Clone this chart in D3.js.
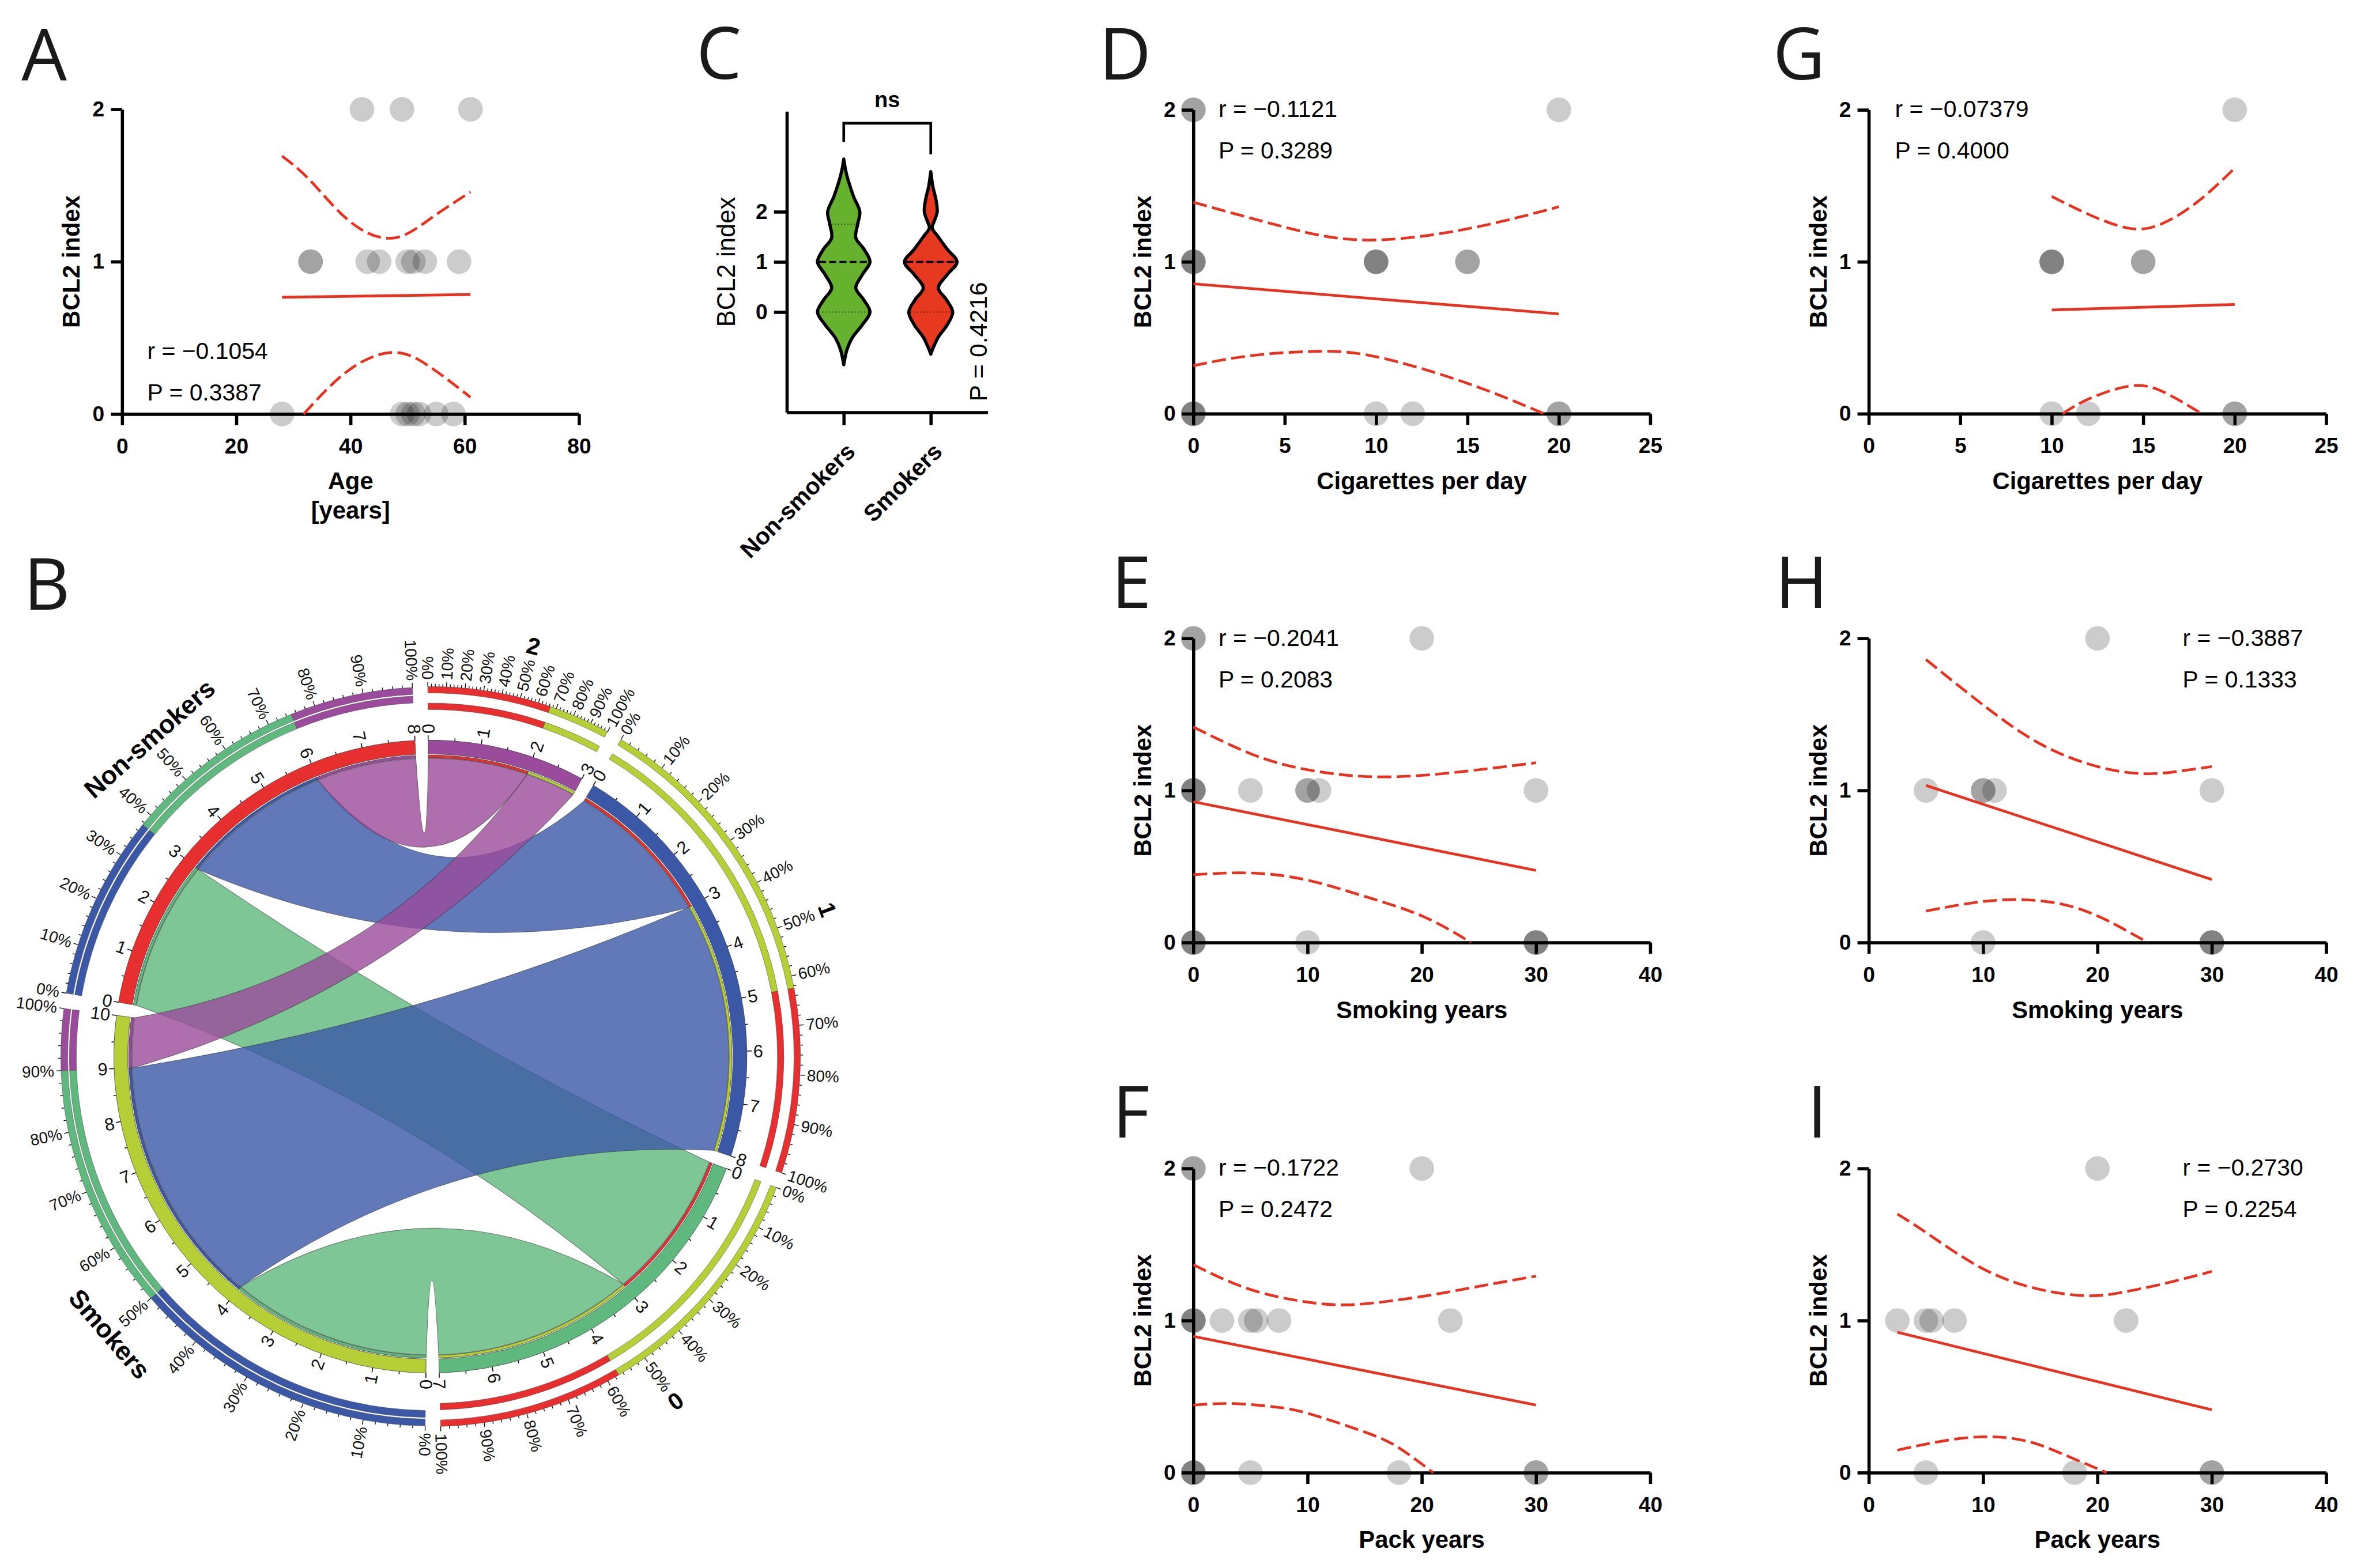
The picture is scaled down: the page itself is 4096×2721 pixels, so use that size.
<!DOCTYPE html>
<html>
<head>
<meta charset="utf-8">
<script src="https://cdn.jsdelivr.net/npm/d3@7"></script>
<style>
body { margin: 0; background: #fff; }
svg text { font-family: "Liberation Sans", Arial, sans-serif; }
</style>
</head>
<body>
<svg id="fig"></svg>
<script>
// ---------- data ----------
const bclTicks = [0, 1, 2]

// A: age (all patients)
const ageX = [42, 49, 61, 33, 33, 43, 45, 50, 51, 53, 59, 28, 49, 50, 51, 52, 55, 58]
const allY = [2, 2, 2, 1, 1, 1, 1, 1, 1, 1, 1, 0, 0, 0, 0, 0, 0, 0]
const ageFitX = [28, 61], ageFitY = [0.766, 0.784]
const ageUpX = [28, 33, 40, 47.5, 54, 61], ageUpY = [1.693, 1.53, 1.26, 1.155, 1.283, 1.457]
const ageLoX = [31.8, 39.6, 47.5, 54, 61], ageLoY = [0, 0.285, 0.404, 0.307, 0.11]

// D: cigarettes per day (all)
const cigX = [0, 0, 20, 0, 0, 0, 10, 10, 10, 15, 15, 0, 0, 0, 10, 12, 20, 20]
const cigFitX = [0, 20], cigFitY = [0.855, 0.657]
const cigUpX = [0, 5, 9.5, 15, 20], cigUpY = [1.392, 1.228, 1.143, 1.217, 1.362]
const cigLoX = [0, 3, 6.5, 10, 15, 19.2], cigLoY = [0.316, 0.38, 0.41, 0.375, 0.2, 0]

// E: smoking years (all)
const yrsX = [0, 0, 20, 0, 0, 0, 5, 10, 10, 11, 30, 0, 0, 0, 10, 30, 30, 30]
const yrsFitX = [0, 30], yrsFitY = [0.926, 0.474]
const yrsUpX = [0, 5, 10, 17, 25, 30], yrsUpY = [1.417, 1.242, 1.136, 1.089, 1.136, 1.182]
const yrsLoX = [0, 5, 10, 15, 20, 24.3], yrsLoY = [0.446, 0.457, 0.41, 0.303, 0.175, 0]

// F: pack years (all)
const packX = [0, 0, 20, 0, 0, 0, 2.5, 5, 5.5, 7.5, 22.5, 0, 0, 0, 5, 18, 30, 30]
const packFitX = [0, 30], packFitY = [0.896, 0.444]
const packUpX = [0, 5, 10, 12.5, 15, 20, 25, 30], packUpY = [1.367, 1.204, 1.121, 1.104, 1.11, 1.158, 1.225, 1.292]
const packLoX = [0, 3.5, 7, 10, 15, 18, 21], packLoY = [0.444, 0.454, 0.433, 0.39, 0.267, 0.163, 0]

// G-I: smokers only
const smkY = [2, 1, 1, 1, 1, 1, 0, 0, 0, 0]
const sCigX = [20, 10, 10, 10, 15, 15, 10, 12, 20, 20]
const sCigFitX = [10, 20], sCigFitY = [0.683, 0.719]
const sCigUpX = [10, 12, 14.2, 16, 18, 20], sCigUpY = [1.43, 1.313, 1.221, 1.249, 1.398, 1.616]
const sCigLoX = [10.6, 12, 14.2, 16, 18.2], sCigLoY = [0, 0.096, 0.181, 0.149, 0]

const sYrsX = [20, 5, 10, 10, 11, 30, 10, 30, 30, 30]
const sYrsFitX = [5, 30], sYrsFitY = [1.033, 0.414]
const sYrsUpX = [5, 10, 15, 20, 24, 27, 30], sYrsUpY = [1.861, 1.562, 1.306, 1.157, 1.11, 1.125, 1.157]
const sYrsLoX = [5, 9, 13, 17, 20, 22, 24.4], sYrsLoY = [0.207, 0.26, 0.282, 0.25, 0.175, 0.1, 0]

const sPackX = [20, 2.5, 5, 5.5, 7.5, 22.5, 5, 18, 30, 30]
const sPackFitX = [2.5, 30], sPackFitY = [0.923, 0.4125]
const sPackUpX = [2.5, 5, 10, 15, 19, 22, 26, 30], sPackUpY = [1.7, 1.579, 1.34, 1.204, 1.163, 1.183, 1.246, 1.323]
const sPackLoX = [2.5, 5, 8, 11, 14, 17, 20.8], sPackLoY = [0.148, 0.1875, 0.225, 0.235, 0.204, 0.121, 0]

// C: violins (value, relative density)
const groupsC = ['Non-smokers', 'Smokers']
const nsVals = [3.05, 2.83, 2.62, 2.3, 2.0, 1.75, 1.48, 1.25, 1.0, 0.75, 0.48, 0.25, 0.0, -0.25, -0.51, -0.75, -1.05]
const nsDens = [0, 0.07, 0.17, 0.37, 0.6, 0.52, 0.45, 0.76, 0.98, 0.7, 0.45, 0.74, 0.98, 0.7, 0.32, 0.12, 0]
const smVals = [2.8, 2.5, 2.25, 2.0, 1.8, 1.68, 1.5, 1.25, 1.0, 0.75, 0.48, 0.25, 0.0, -0.25, -0.5, -0.7, -0.84]
const smDens = [0, 0.08, 0.19, 0.24, 0.12, 0.05, 0.28, 0.62, 0.98, 0.62, 0.28, 0.58, 0.82, 0.62, 0.28, 0.1, 0]
const nsQuart = [0, 1.75], smQuart = [0, 1]
const medianC = [1, 1]

// B: chord diagram
const sectNames = ['2', '1', '0', 'Smokers', 'Non-smokers']
const sectSizes = [3, 8, 7, 10, 8]
const sectColors = ['#9b4b9b', '#3b58a7', '#5fb87d', '#b6cf37', '#e62f2e']
const linkFrom = ['Non-smokers', 'Non-smokers', 'Non-smokers', 'Smokers', 'Smokers', 'Smokers']
const linkFromRange = [[0, 3], [3, 6], [6, 8], [0, 4], [4, 9], [9, 10]]
const linkTo = ['0', '1', '2', '0', '1', '2']
const linkToRange = [[0, 3], [0, 3], [0, 2], [3, 7], [3, 8], [2, 3]]
const barSector = ['2', '2', '1', '1', '0', '0', 'Smokers', 'Smokers', 'Smokers', 'Non-smokers', 'Non-smokers', 'Non-smokers']
const barPartner = ['Non-smokers', 'Smokers', 'Smokers', 'Non-smokers', 'Smokers', 'Non-smokers', '1', '0', '2', '1', '0', '2']
const barCount = [2, 1, 5, 3, 4, 3, 5, 4, 1, 3, 3, 2]

// ---------- drawing ----------
const W = 4408, H = 2928
const svg = d3.select('#fig')
  .attr('width', 4096).attr('height', 2721)
  .attr('viewBox', `0 0 ${W} ${H}`)
svg.append('rect').attr('width', W).attr('height', H).attr('fill', '#fff')

const red = '#e8321f'

function panelLetter(txt, x, y) {
  svg.append('text').attr('x', x).attr('y', y)
    .style('font-family', '"Open Sans", "Liberation Sans", sans-serif')
    .attr('font-size', 134).attr('fill', '#1a1a1a').text(txt)
}

function styleAxis(g) {
  g.selectAll('.domain, .tick line').attr('stroke', '#000').attr('stroke-width', 6)
  g.selectAll('.tick text').attr('font-size', 40).attr('font-weight', 'bold').attr('fill', '#000')
}

function scatterPanel(p) {
  const x = d3.scaleLinear().domain(p.xDomain).range([p.left, p.right])
  const y = d3.scaleLinear().domain([0, 2]).range([p.bottom, p.top])
  const g = svg.append('g')

  g.append('g').attr('transform', `translate(${p.left},0)`)
    .call(d3.axisLeft(y).tickValues(bclTicks).tickSize(21).tickSizeOuter(0).tickPadding(12).tickFormat(d3.format('d')))
    .call(styleAxis)
  g.append('g').attr('transform', `translate(0,${p.bottom})`)
    .call(d3.axisBottom(x).tickValues(p.xTicks).tickSize(21).tickSizeOuter(0).tickPadding(24).tickFormat(d3.format('d')))
    .call(styleAxis)

  // y title
  g.append('text')
    .attr('transform', `translate(${p.left - 79},${(p.top + p.bottom) / 2}) rotate(-90)`)
    .attr('text-anchor', 'middle').attr('font-size', 45).attr('font-weight', 'bold')
    .text('BCL2 index')
  // x title
  p.xTitle.forEach((t, i) => {
    g.append('text').attr('x', (p.left + p.right) / 2).attr('y', p.bottom + 141 + i * 54)
      .attr('text-anchor', 'middle').attr('font-size', 45).attr('font-weight', 'bold').text(t)
  })

  // points
  g.append('g').selectAll('circle')
    .data(p.xs.map((v, i) => [v, p.ys[i]]))
    .join('circle')
    .attr('cx', d => x(d[0])).attr('cy', d => y(d[1])).attr('r', 23)
    .attr('fill', '#000').attr('fill-opacity', 0.2)

  const line = d3.line().x(d => x(d[0])).y(d => y(d[1]))
  const zip = (a, b) => a.map((v, i) => [v, b[i]])
  g.append('path').attr('d', line(zip(p.fitX, p.fitY)))
    .attr('fill', 'none').attr('stroke', red).attr('stroke-width', 5)
  const ci = d3.line().x(d => x(d[0])).y(d => y(d[1])).curve(d3.curveNatural)
  ;[zip(p.upX, p.upY), zip(p.loX, p.loY)].forEach(pts => {
    g.append('path').attr('d', ci(pts))
      .attr('fill', 'none').attr('stroke', red).attr('stroke-width', 5)
      .attr('stroke-dasharray', '26,10')
  })

  // stats
  g.append('text').attr('x', p.statX).attr('y', p.statY).attr('font-size', 44).text(p.r)
  g.append('text').attr('x', p.statX).attr('y', p.statY + 78).attr('font-size', 44).text(p.P)
}

const ticks25 = [0, 5, 10, 15, 20, 25], ticks40 = [0, 10, 20, 30, 40]

scatterPanel({ left: 228, right: 1081, top: 204, bottom: 773, xDomain: [0, 80], xTicks: [0, 20, 40, 60, 80],
  xTitle: ['Age', '[years]'], xs: ageX, ys: allY, fitX: ageFitX, fitY: ageFitY,
  upX: ageUpX, upY: ageUpY, loX: ageLoX, loY: ageLoY, statX: 275, statY: 670, r: 'r = \u22120.1054', P: 'P = 0.3387' })

scatterPanel({ left: 2228, right: 3081, top: 205, bottom: 772.5, xDomain: [0, 25], xTicks: ticks25,
  xTitle: ['Cigarettes per day'], xs: cigX, ys: allY, fitX: cigFitX, fitY: cigFitY,
  upX: cigUpX, upY: cigUpY, loX: cigLoX, loY: cigLoY, statX: 2275, statY: 218, r: 'r = \u22120.1121', P: 'P = 0.3289' })

scatterPanel({ left: 2228, right: 3081, top: 1192, bottom: 1760, xDomain: [0, 40], xTicks: ticks40,
  xTitle: ['Smoking years'], xs: yrsX, ys: allY, fitX: yrsFitX, fitY: yrsFitY,
  upX: yrsUpX, upY: yrsUpY, loX: yrsLoX, loY: yrsLoY, statX: 2275, statY: 1206, r: 'r = \u22120.2041', P: 'P = 0.2083' })

scatterPanel({ left: 2228, right: 3081, top: 2182, bottom: 2750, xDomain: [0, 40], xTicks: ticks40,
  xTitle: ['Pack years'], xs: packX, ys: allY, fitX: packFitX, fitY: packFitY,
  upX: packUpX, upY: packUpY, loX: packLoX, loY: packLoY, statX: 2275, statY: 2195, r: 'r = \u22120.1722', P: 'P = 0.2472' })

scatterPanel({ left: 3489, right: 4343, top: 205, bottom: 772.5, xDomain: [0, 25], xTicks: ticks25,
  xTitle: ['Cigarettes per day'], xs: sCigX, ys: smkY, fitX: sCigFitX, fitY: sCigFitY,
  upX: sCigUpX, upY: sCigUpY, loX: sCigLoX, loY: sCigLoY, statX: 3538, statY: 218, r: 'r = \u22120.07379', P: 'P = 0.4000' })

scatterPanel({ left: 3489, right: 4343, top: 1192, bottom: 1760, xDomain: [0, 40], xTicks: ticks40,
  xTitle: ['Smoking years'], xs: sYrsX, ys: smkY, fitX: sYrsFitX, fitY: sYrsFitY,
  upX: sYrsUpX, upY: sYrsUpY, loX: sYrsLoX, loY: sYrsLoY, statX: 4075, statY: 1206, r: 'r = \u22120.3887', P: 'P = 0.1333' })

scatterPanel({ left: 3489, right: 4343, top: 2182, bottom: 2750, xDomain: [0, 40], xTicks: ticks40,
  xTitle: ['Pack years'], xs: sPackX, ys: smkY, fitX: sPackFitX, fitY: sPackFitY,
  upX: sPackUpX, upY: sPackUpY, loX: sPackLoX, loY: sPackLoY, statX: 4075, statY: 2195, r: 'r = \u22120.2730', P: 'P = 0.2254' })

// ---------- C: violins ----------
{
  const x = d3.scalePoint().domain(groupsC).range([1469, 1844]).padding(0.654)
  const y = d3.scaleLinear().domain([-2, 4]).range([770, 208])
  const w = d3.scaleLinear().domain([0, 1]).range([0, 50])
  const g = svg.append('g')

  g.append('g').attr('transform', 'translate(1469,0)')
    .call(d3.axisLeft(y).tickValues(bclTicks).tickSize(24).tickSizeOuter(0).tickPadding(12).tickFormat(d3.format('d')))
    .call(styleAxis)
  g.append('g').attr('transform', 'translate(0,770)')
    .call(d3.axisBottom(x).tickSize(24).tickSizeOuter(0).tickFormat(''))
    .call(styleAxis)

  g.append('text').attr('transform', 'translate(1372,489) rotate(-90)')
    .attr('text-anchor', 'middle').attr('font-size', 47).text('BCL2 index')

  const violins = [
    { name: groupsC[0], vals: nsVals, dens: nsDens, q: nsQuart, fill: '#66b22e' },
    { name: groupsC[1], vals: smVals, dens: smDens, q: smQuart, fill: '#e6391f' }
  ]
  violins.forEach((v, k) => {
    const cx = x(v.name)
    const area = d3.area()
      .y((d, i) => y(v.vals[i]))
      .x0((d, i) => cx - w(v.dens[i]))
      .x1((d, i) => cx + w(v.dens[i]))
      .curve(d3.curveCatmullRom)
    g.append('path').attr('d', area(v.vals))
      .attr('fill', v.fill).attr('stroke', '#000').attr('stroke-width', 6)
      .attr('stroke-linejoin', 'round')
    const widthAt = val => w(v.dens[v.vals.indexOf(val)]) - 3
    v.q.forEach(qv => {
      g.append('line').attr('x1', cx - widthAt(qv)).attr('x2', cx + widthAt(qv))
        .attr('y1', y(qv)).attr('y2', y(qv))
        .attr('stroke', '#000').attr('stroke-opacity', 0.55).attr('stroke-width', 2).attr('stroke-dasharray', '2,4')
    })
    const m = medianC[k]
    g.append('line').attr('x1', cx - widthAt(m)).attr('x2', cx + widthAt(m))
      .attr('y1', y(m)).attr('y2', y(m))
      .attr('stroke', '#000').attr('stroke-width', 4).attr('stroke-dasharray', '13,6')
    g.append('text')
      .attr('transform', `translate(${cx + 24},846) rotate(-45)`)
      .attr('text-anchor', 'end').attr('font-size', 44).attr('font-weight', 'bold').text(v.name)
  })

  // significance bracket
  const x0 = x(groupsC[0]), x1 = x(groupsC[1])
  g.append('path').attr('d', `M${x0},265 V230 H${x1} V288`)
    .attr('fill', 'none').attr('stroke', '#000').attr('stroke-width', 5)
  g.append('text').attr('x', (x0 + x1) / 2).attr('y', 200).attr('text-anchor', 'middle')
    .attr('font-size', 41).attr('font-weight', 'bold').text('ns')
  g.append('text').attr('transform', 'translate(1842,638) rotate(-90)')
    .attr('text-anchor', 'middle').attr('font-size', 46).text('P = 0.4216')
}

// ---------- B: chord diagram ----------
{
  const cx = 803.5, cy = 1973
  const g = svg.append('g').attr('transform', `translate(${cx},${cy})`)
  const unitDeg = 9.667, gapDeg = 2.4
  const rad = d => d * Math.PI / 180
  const pt = (deg, r) => [r * Math.sin(rad(deg)), -r * Math.cos(rad(deg))]
  const isLeft = deg => { const n = ((deg % 360) + 360) % 360; return n > 180.5 && n < 358.4 }

  let acc = -0.4
  const sectors = {}
  sectNames.forEach((name, i) => {
    const s = { name, size: sectSizes[i], color: sectColors[i], start: acc }
    s.end = acc + s.size * unitDeg
    s.scale = d3.scaleLinear().domain([0, s.size]).range([s.start, s.end])
    s.source = name === 'Smokers' || name === 'Non-smokers'
    sectors[name] = s
    acc = s.end + gapDeg
  })

  const arc = d3.arc()
  const arcPath = (a0, a1, r0, r1) => arc({ startAngle: rad(a0), endAngle: rad(a1), innerRadius: r0, outerRadius: r1 })

  // links
  const rl = 557
  const linkG = g.append('g')
  linkFrom.forEach((src, i) => {
    const s = sectors[src], t = sectors[linkTo[i]]
    const a1 = s.scale(linkFromRange[i][0]), a2 = s.scale(linkFromRange[i][1])
    const b1 = t.scale(linkToRange[i][0]), b2 = t.scale(linkToRange[i][1])
    const A1 = pt(a1, rl), A2 = pt(a2, rl), B1 = pt(b1, rl), B2 = pt(b2, rl)
    const p = d3.path()
    p.moveTo(A1[0], A1[1])
    p.arc(0, 0, rl, rad(a1) - Math.PI / 2, rad(a2) - Math.PI / 2)
    p.quadraticCurveTo((A2[0] + B1[0]) / 4, (A2[1] + B1[1]) / 4, B1[0], B1[1])
    p.arc(0, 0, rl, rad(b1) - Math.PI / 2, rad(b2) - Math.PI / 2)
    p.quadraticCurveTo((B2[0] + A1[0]) / 4, (B2[1] + A1[1]) / 4, A1[0], A1[1])
    p.closePath()
    linkG.append('path').attr('d', p.toString())
      .attr('fill', t.color).attr('fill-opacity', 0.8)
      .attr('stroke', '#333').attr('stroke-opacity', 0.6).attr('stroke-width', 1.2)
    // thin root bars coloured by the other end
    g.append('path').attr('d', arcPath(a1, a2, rl + 1, rl + 6))
      .attr('fill', t.color).attr('stroke', '#333').attr('stroke-width', 0.8)
    g.append('path').attr('d', arcPath(b1, b2, rl + 1, rl + 6))
      .attr('fill', s.color).attr('stroke', '#333').attr('stroke-width', 0.8)
  })

  // sector ring, ticks, numbers
  Object.values(sectors).forEach(s => {
    g.append('path').attr('d', arcPath(s.start, s.end, 565, 591))
      .attr('fill', s.color).attr('stroke', '#333').attr('stroke-width', 0.8)
    d3.range(0, s.size + 0.001, 0.5).forEach(v => {
      const a = s.scale(v), major = v % 1 === 0
      const p0 = pt(a, 591), p1 = pt(a, major ? 600 : 596)
      g.append('line').attr('x1', p0[0]).attr('y1', p0[1]).attr('x2', p1[0]).attr('y2', p1[1])
        .attr('stroke', '#000').attr('stroke-width', 1.6)
      if (major) {
        const q = pt(a, 603), left = isLeft(a)
        g.append('text').attr('transform', `translate(${q[0]},${q[1]}) rotate(${left ? a + 90 : a - 90})`)
          .attr('text-anchor', left ? 'end' : 'start').attr('dominant-baseline', 'central')
          .attr('font-size', 33).attr('fill', '#111').text(v)
      }
    })
  })

  // outer composition bars with percentage axis
  Object.values(sectors).forEach(s => {
    const bands = s.source ? [[677, 690], [661, 674]] : [[679, 691], [648, 660]]
    let cum = 0
    barSector.forEach((name, i) => {
      if (name !== s.name) return
      const a0 = s.scale(cum), a1 = s.scale(cum + barCount[i])
      cum += barCount[i]
      bands.forEach(b => {
        g.append('path').attr('d', arcPath(a0, a1, b[0], b[1]))
          .attr('fill', sectors[barPartner[i]].color).attr('stroke', '#444').attr('stroke-width', 0.6)
      })
    })
    const rEdge = bands[0][1]
    const pct = d3.scaleLinear().domain([0, 100]).range([s.start, s.end])
    d3.range(0, 101, 2).forEach(f => {
      const a = pct(f), major = f % 10 === 0
      const p0 = pt(a, rEdge), p1 = pt(a, rEdge + (major ? 9 : 5))
      g.append('line').attr('x1', p0[0]).attr('y1', p0[1]).attr('x2', p1[0]).attr('y2', p1[1])
        .attr('stroke', '#000').attr('stroke-width', 1.4)
      if (major) {
        const q = pt(a, rEdge + 13), left = isLeft(a)
        g.append('text').attr('transform', `translate(${q[0]},${q[1]}) rotate(${left ? a + 90 : a - 90})`)
          .attr('text-anchor', left ? 'end' : 'start').attr('dominant-baseline', 'central')
          .attr('font-size', 30).attr('fill', '#111').text(f + '%')
      }
    })
    // sector name
    const mid = (s.start + s.end) / 2
    const n = ((mid % 360) + 360) % 360
    const rot = (n > 90 && n < 270) ? mid - 180 : mid
    const q = pt(mid, s.source ? 792 : 790)
    g.append('text').attr('transform', `translate(${q[0]},${q[1]}) rotate(${rot})`)
      .attr('text-anchor', 'middle').attr('dominant-baseline', 'central')
      .attr('font-size', s.source ? 48 : 44).attr('font-weight', 'bold').text(s.name)
  })
}

// panel letters
panelLetter('A', 40, 150)
panelLetter('B', 44, 1138)
panelLetter('C', 1300, 147)
panelLetter('D', 2052, 148)
panelLetter('E', 2075, 1135)
panelLetter('F', 2077, 2124)
panelLetter('G', 3310, 148)
panelLetter('H', 3314, 1135)
panelLetter('I', 3374, 2124)
</script>
</body>
</html>
